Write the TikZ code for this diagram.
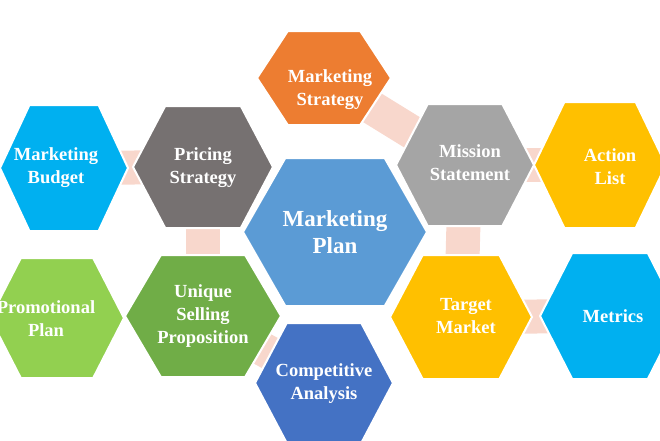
\documentclass[tikz,border=0pt]{standalone}
\usepackage{fontspec}
\setmainfont{Liberation Serif}
\begin{document}
\begin{tikzpicture}[x=1pt,y=-1pt,
  lbl/.style={text=white,font=\bfseries\fontsize{18.5}{23}\selectfont,align=center},
  link/.style={draw=pinkc,line width=34pt}]
\definecolor{pinkc}{HTML}{F8D7CC}
\definecolor{cblue}{HTML}{5B9BD5}
\definecolor{corange}{HTML}{ED7D31}
\definecolor{cdgray}{HTML}{767171}
\definecolor{cgray}{HTML}{A5A5A5}
\definecolor{cgold}{HTML}{FFC000}
\definecolor{ccyan}{HTML}{00B0F0}
\definecolor{cgreen}{HTML}{70AD47}
\definecolor{clgreen}{HTML}{92D050}
\definecolor{cdblue}{HTML}{4472C4}
\newcommand\hexa[5]{\filldraw[fill=#5,draw=white,line width=2pt] (#1-#3,#2) -- (#1-0.54*#3,#2-#4) -- (#1+0.54*#3,#2-#4) -- (#1+#3,#2) -- (#1+0.54*#3,#2+#4) -- (#1-0.54*#3,#2+#4) -- cycle;}
\useasboundingbox (0,0) rectangle (660,440);
\coordinate (cMB) at (64,168);
\coordinate (cPS) at (203,167);
\coordinate (cMS) at (324,78);
\coordinate (cMi) at (465,165);
\coordinate (cAL) at (600,165);
\coordinate (cUS) at (203,316);
\coordinate (cTM) at (461,317);
\coordinate (cCA) at (324,383);
\coordinate (cMe) at (610,316);
\draw[link] (cMB) -- (cPS);
\draw[link] (cPS) -- (cUS);
\draw[link] (cMS) -- (cMi);
\draw[link] (cMi) -- (cAL);
\draw[link] (cMi) -- (cTM);
\draw[link] (cUS) -- (cCA);
\draw[link] (cTM) -- (cMe);
\hexa{324}{78}{67}{47}{corange}
\hexa{203}{167}{70}{61}{cdgray}
\hexa{64}{168}{64}{63}{ccyan}
\hexa{465}{165}{69}{61}{cgray}
\hexa{600}{165}{66}{63}{cgold}
\hexa{203}{316}{78}{61}{cgreen}
\hexa{57}{318}{67}{60}{clgreen}
\hexa{324}{383}{69}{60}{cdblue}
\hexa{461}{317}{71}{62}{cgold}
\hexa{610}{316}{70}{63}{ccyan}
\hexa{335}{232}{92}{74}{cblue}
\node[lbl,font=\bfseries\fontsize{23}{27}\selectfont] (mp) at (335,232) {Marketing\\Plan};
\node[lbl] (ms) at (330,90) {Marketing\\Strategy};
\node[lbl] (ps) at (203,168) {Pricing\\Strategy};
\node[lbl] (mb) at (56,168) {Marketing\\Budget};
\node[lbl] (mi) at (470,163) {Mission\\Statement};
\node[lbl] (al) at (610,167) {Action\\List};
\node[lbl] (us) at (203,316) {Unique\\Selling\\Proposition};
\node[lbl] (pp) at (46,319) {Promotional\\Plan};
\node[lbl] (ca) at (324,384) {Competitive\\Analysis};
\node[lbl] (tm) at (466,316) {Target\\Market};
\node[lbl] (me) at (613,316) {Metrics};
\end{tikzpicture}
\end{document}
